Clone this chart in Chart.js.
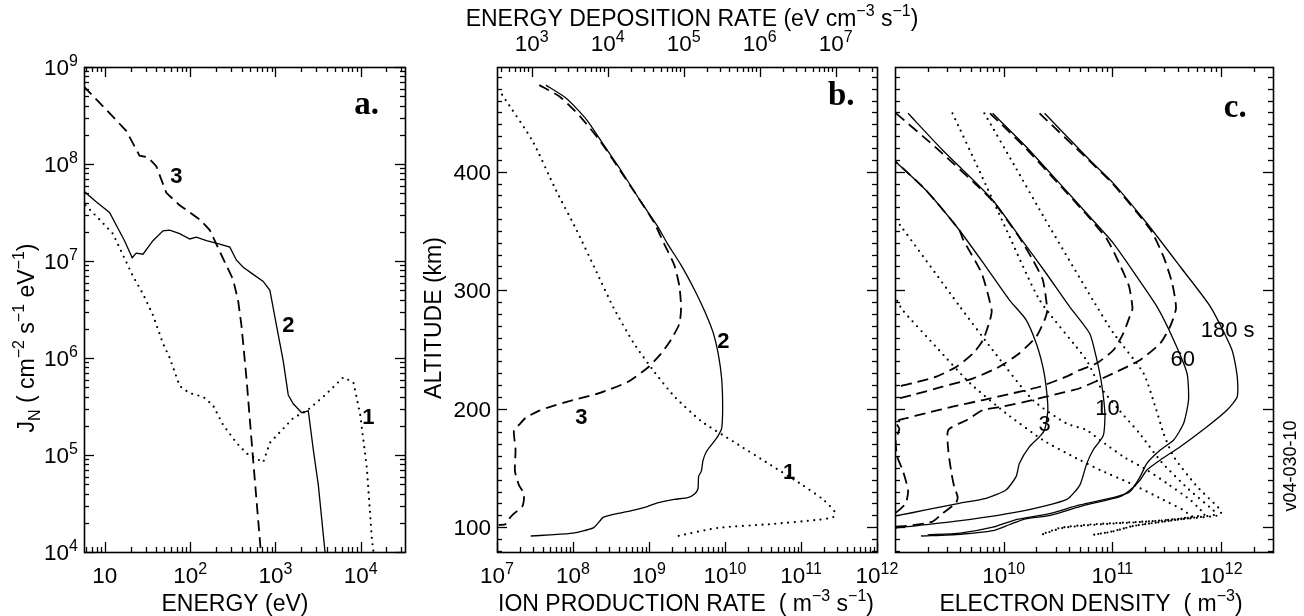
<!DOCTYPE html>
<html>
<head>
<meta charset="utf-8">
<script src="https://cdn.jsdelivr.net/npm/chart.js@4/dist/chart.umd.min.js"></script>
<style>
  html, body { margin: 0; background: #fff; }
  #wrap { position: relative; width: 1304px; height: 616px; }
  canvas { position: absolute; left: 0; top: 0; }
</style>
</head>
<body>
<div id="wrap">
  <canvas id="panelA" width="1304" height="616"></canvas>
  <canvas id="panelB" width="1304" height="616"></canvas>
  <canvas id="panelC" width="1304" height="616"></canvas>
</div>
<script>
// ---- panel a: electron spectra, log10 of energy (eV) and flux ----
const energyLog1 = [0.773,0.937,1.094,1.251,1.329,1.447,1.564,1.682,1.760,1.877,1.995,2.152,2.269,2.387,2.543,2.661,2.739,2.857,2.935,3.092,3.209,3.366,3.562,3.797,3.914,3.993,4.071,4.130,4.149];
const fluxLog1   = [7.575,7.428,7.282,6.990,6.844,6.661,6.442,6.149,6.003,5.711,5.637,5.601,5.510,5.309,5.126,5.016,4.980,4.925,5.126,5.272,5.382,5.455,5.601,5.802,5.747,5.418,4.870,4.139,4.0];
const energyLog2 = [0.753,0.898,1.055,1.231,1.321,1.368,1.447,1.564,1.682,1.760,1.877,1.995,2.073,2.191,2.347,2.465,2.543,2.622,2.739,2.857,2.935,3.013,3.092,3.150,3.209,3.307,3.385,3.444,3.503,3.581];
const fluxLog2   = [7.721,7.611,7.501,7.209,7.034,7.081,7.070,7.209,7.311,7.319,7.282,7.227,7.246,7.209,7.173,7.143,7.008,6.935,6.862,6.789,6.697,6.332,5.966,5.619,5.528,5.436,5.455,5.053,4.687,4.0];
const energyLog3 = [0.753,1.055,1.251,1.407,1.505,1.603,1.721,1.877,2.112,2.230,2.347,2.504,2.563,2.602,2.661,2.739,2.829];
const fluxLog3   = [8.799,8.525,8.342,8.086,8.068,7.977,7.703,7.575,7.428,7.319,7.099,6.807,6.588,6.332,5.784,4.943,4.0];

// ---- panel b: ion production, altitude (km) and log10 rate (m-3 s-1) ----
const altB1  = [465.0,426.0,384.1,351.1,315.2,285.2,255.2,231.3,210.3,189.3,171.3,153.3,135.4,123.4,112.9,108.4,106.3,102.4,99.4,91.9];
const rateB1 = [7.067,7.467,7.778,8.044,8.311,8.533,8.800,9.067,9.333,9.689,10.133,10.578,11.022,11.289,11.444,11.422,11.244,10.578,9.911,9.333];
const altB2  = [473.1,462.0,444.0,423.0,402.1,375.1,354.1,339.1,321.2,300.2,282.2,264.2,246.2,225.3,201.3,183.3,177.3,171.3,163.8,156.3,147.3,142.9,132.4,127.9,124.9,123.4,120.4,117.4,114.4,111.4,108.4,105.4,99.4,94.9,93.4,92.5];
const rateB2 = [7.644,7.911,8.178,8.400,8.622,8.889,9.111,9.244,9.422,9.600,9.733,9.844,9.911,9.956,9.969,9.956,9.911,9.844,9.756,9.711,9.689,9.653,9.644,9.600,9.511,9.333,9.111,8.978,8.800,8.578,8.400,8.356,8.267,8.000,7.689,7.444];
const altB3  = [473.1,463.5,447.0,426.0,405.1,375.1,357.1,339.1,321.2,303.2,285.2,271.7,258.2,246.2,234.3,222.3,213.3,207.3,201.3,198.3,192.3,186.3,181.8,165.3,147.3,135.4,127.9,117.4,111.4,106.9,102.4,101.8];
const rateB3 = [7.556,7.822,8.089,8.356,8.578,8.889,9.067,9.200,9.333,9.400,9.422,9.400,9.289,9.156,8.978,8.711,8.356,8.000,7.689,7.556,7.378,7.289,7.222,7.244,7.236,7.289,7.356,7.333,7.222,7.156,7.111,7.022];

// ---- panel c: electron density after 3, 10, 60, 180 s (log10 m-3) ----
// spectrum 1 (dotted)
const altP3  = [291.0,283.3,252.3,221.4,196.1,173.5,159.5,156.7,148.2,137.0,122.9,114.5,111.0,108.4,105.4,103.9,102.4,99.4,93.4];
const denP3  = [9.02,9.068,9.376,9.69,10.021,10.36,10.637,10.70,10.886,11.163,11.47,11.65,11.70,11.74,11.43,11.13,10.82,10.52,10.336];
const altP10 = [359.0,355.0,286.1,249.5,207.3,187.6,182.0,173.5,159.5,148.2,137.0,122.9,114.5,110.5,107.0,104.5,102.4,99.4,93.4];
const denP10 = [9.0,9.046,9.597,9.898,10.267,10.575,10.76,10.886,11.10,11.317,11.50,11.717,11.81,11.85,11.6,11.3,10.9,10.55,10.34];
const altP60 = [449.3,400.0,350.0,291.7,241.1,218.6,200.0,179.0,155.0,132.0,114.0,110.5,106.3,100.9,96.4,93.4];
const denP60 = [9.529,9.78,10.03,10.33,10.76,10.886,11.05,11.25,11.45,11.70,11.93,11.95,11.6,11.19,11.0,10.82];
const altP180 = [449.3,405.0,360.0,291.7,263.6,229.9,200.0,179.2,159.5,134.1,114.5,110.2,106.5,100.9,96.4,93.4];
const denP180 = [9.822,10.10,10.38,10.82,11.01,11.286,11.40,11.47,11.563,11.78,11.994,11.994,11.62,11.19,11.007,10.82];
// spectrum 2 (solid)
const altS3  = [413.0,408.5,384.6,350.8,318.0,291.7,275.0,255.2,235.4,218.6,198.9,182.0,176.4,167.9,153.9,142.6,131.3,124.3,120.1,114.5,109.4,108.0];
const denS3  = [8.95,9.006,9.283,9.591,9.85,10.053,10.206,10.299,10.36,10.39,10.406,10.376,10.33,10.237,10.145,10.114,10.02,9.837,9.59,9.283,9.006,8.9];
const altS10 = [449.3,418.4,376.1,345.1,314.3,286.1,263.6,243.9,221.4,195.3,177.3,165.3,153.4,135.4,123.4,114.4,105.4,99.4,97.0];
const denS10 = [9.12,9.437,9.898,10.145,10.39,10.606,10.79,10.85,10.90,10.931,10.916,10.824,10.763,10.70,10.58,10.214,9.603,9.017,8.9];
const altS60 = [449.3,421.1,390.2,362.0,339.6,311.4,286.1,258.0,229.9,207.3,187.6,173.5,165.1,153.9,142.6,130.0,125.7,118.7,111.0,106.0,100.0,95.0,93.5];
const denS60 = [9.898,10.206,10.514,10.791,11.009,11.225,11.41,11.563,11.686,11.70,11.655,11.563,11.44,11.317,11.255,11.163,11.04,10.70,10.40,10.1,9.9,9.6,9.3];
const altS180 = [449.3,409.9,390.2,356.5,319.8,286.1,249.5,227.0,210.1,198.9,184.8,167.9,156.7,148.2,139.8,131.3,125.7,121.5,117.3,110.0,107.0,102.0,97.0,94.0,92.5];
const denS180 = [10.376,10.791,11.009,11.317,11.624,11.901,12.10,12.148,12.148,12.055,11.87,11.624,11.44,11.317,11.255,11.163,11.07,10.886,10.70,10.43,10.2,10.05,9.9,9.6,9.24];
// spectrum 3 (dashed)
const altD3  = [413.0,408.5,384.6,350.8,342.4,314.3,283.3,275.0,258.0,246.8,235.4,227.0,221.4,218.0,212.0];
const denD3  = [8.95,9.006,9.283,9.591,9.628,9.797,9.889,9.874,9.81,9.72,9.566,9.38,9.16,9.006,8.8];
const altD10 = [449.3,418.4,376.1,345.1,325.5,308.6,283.3,275.0,260.9,246.8,235.4,225.6,218.5,211.5,208.0,204.0];
const denD10 = [9.01,9.40,9.89,10.14,10.268,10.36,10.40,10.376,10.30,10.145,9.96,9.72,9.437,9.16,9.006,8.8];
const altD60 = [449.3,421.1,390.2,362.0,342.4,319.8,302.9,284.7,280.5,263.6,249.5,238.3,232.6,227.0,218.5,213.0,207.3,201.7,196.1,191.9,189.0,183.0,173.5,159.5,148.2,131.3,120.1,114.5,111.7,108.0];
const denD60 = [9.874,10.19,10.50,10.78,10.954,11.077,11.154,11.185,11.17,11.10,11.01,10.855,10.70,10.575,10.33,10.083,9.81,9.53,9.283,9.10,9.006,9.04,9.006,9.02,9.07,9.12,9.1,9.04,9.0,8.9];
const altD180 = [449.3,409.9,390.2,351.0,328.3,305.8,284.7,269.2,255.2,241.1,229.9,217.2,213.0,207.3,201.7,198.9,190.4,182.0,164.9,145.3,134.0,125.6,120.1,111.7,104.6,101.0,100.0];
const denD180 = [10.33,10.78,11.0,11.35,11.47,11.55,11.585,11.53,11.44,11.255,11.01,10.70,10.514,10.267,9.99,9.81,9.66,9.49,9.49,9.52,9.545,9.576,9.56,9.437,9.345,9.1,8.9];

// ---- tick labels ----
const energyTicks = [10, 100, 1000, 10000];
const energyTickExp = ['', '2', '3', '4'];
const fluxTicks = [1e4, 1e5, 1e6, 1e7, 1e8, 1e9];
const fluxTickExp = ['4', '5', '6', '7', '8', '9'];
const rateTicks = [1e7, 1e8, 1e9, 1e10, 1e11, 1e12];
const rateTickExp = ['7', '8', '9', '10', '11', '12'];
const depositionTicks = [1e3, 1e4, 1e5, 1e6, 1e7];
const depositionTickExp = ['3', '4', '5', '6', '7'];
const densityTicks = [1e10, 1e11, 1e12];
const densityTickExp = ['10', '11', '12'];
const altitudeTicks = [100, 200, 300, 400];

const FONT = '"Liberation Sans", Arial, Helvetica, sans-serif';
const SERIF = '"Liberation Serif", "Times New Roman", serif';
const FS = 22.5;   // tick labels
const TS = 23;     // axis titles

function logPts(xs, ys) { return xs.map((x, i) => ({ x: 10 ** x, y: 10 ** ys[i] })); }
function altPts(xs, alts) { return xs.map((x, i) => ({ x: 10 ** x, y: alts[i] })); }

const SOLID = { borderWidth: 1.3, borderDash: [] };
const DASHED = { borderWidth: 1.8, borderDash: [11, 6] };
const DOTTED = { borderWidth: 2.2, borderDash: [0, 6.5], borderCapStyle: 'round' };
function line(data, style, tension) {
  return Object.assign({ data, showLine: true, borderColor: '#000', pointRadius: 0, fill: false, clip: 0, tension: tension || 0 }, style);
}

function logMinor(min, max) {
  const out = [];
  for (let e = Math.floor(Math.log10(min)); e <= Math.ceil(Math.log10(max)); e++)
    for (let m = 2; m <= 9; m++) { const v = m * 10 ** e; if (v > min && v < max) out.push(v); }
  return out;
}
const altMinor = [];
for (let h = 80; h <= 480; h += 10) if (h % 100) altMinor.push(h);

// text with superscripts (kind 1) and subscripts (kind -1)
function rich(ctx, parts, x, y, align, size, weight, family) {
  const small = Math.round(size * 0.7);
  const fam = family || FONT;
  const w8 = weight || 'normal';
  let total = 0;
  const widths = parts.map(([t, k]) => {
    ctx.font = `${w8} ${k ? small : size}px ${fam}`;
    const m = ctx.measureText(t).width; total += m; return m;
  });
  let cx = align === 'center' ? x - total / 2 : align === 'right' ? x - total : x;
  ctx.textAlign = 'left';
  ctx.textBaseline = 'alphabetic';
  parts.forEach(([t, k], i) => {
    ctx.font = `${w8} ${k ? small : size}px ${fam}`;
    const dy = k === 1 ? -size * 0.42 : k === -1 ? size * 0.28 : 0;
    ctx.fillText(t, cx, y + dy);
    cx += widths[i];
  });
}

const framePlugin = {
  id: 'frame',
  afterDraw(chart, args, o) {
    const ctx = chart.ctx, a = chart.chartArea;
    ctx.save();
    ctx.fillStyle = '#000';
    ctx.strokeStyle = '#000';
    ctx.lineWidth = 1.6;
    ctx.strokeRect(Math.round(a.left) + 0.5, Math.round(a.top) + 0.5, Math.round(a.right - a.left), Math.round(a.bottom - a.top));
    ctx.lineWidth = 1.3;
    for (const t of o.ticks) {
      const s = chart.scales[t.scale];
      for (const [vals, len] of [[t.major, 10], [t.minor, 5]]) {
        for (const v of vals) {
          const p = Math.round(s.getPixelForValue(v)) + 0.5;
          ctx.beginPath();
          if (t.side === 'bottom') { ctx.moveTo(p, a.bottom); ctx.lineTo(p, a.bottom - len); }
          else if (t.side === 'top') { ctx.moveTo(p, a.top); ctx.lineTo(p, a.top + len); }
          else if (t.side === 'left') { ctx.moveTo(a.left, p); ctx.lineTo(a.left + len, p); }
          else { ctx.moveTo(a.right, p); ctx.lineTo(a.right - len, p); }
          ctx.stroke();
        }
      }
    }
    for (const L of o.labels) {
      const s = chart.scales[L.scale];
      L.values.forEach((v, i) => {
        const p = s.getPixelForValue(v);
        const parts = L.exps ? [['10', 0], [L.exps[i], 1]] : [[String(v), 0]];
        if (L.side === 'bottom') rich(ctx, parts, p, a.bottom + 31, 'center', FS);
        else if (L.side === 'top') rich(ctx, parts, p, a.top - 16, 'center', FS);
        else rich(ctx, parts, a.left - 6, p + FS * 0.36, 'right', FS);
      });
    }
    for (const T of o.titles) {
      if (T.rotate) {
        ctx.save();
        ctx.translate(T.x, T.y);
        ctx.rotate(-Math.PI / 2);
        rich(ctx, T.parts, 0, 0, 'center', T.size || TS);
        ctx.restore();
      } else {
        rich(ctx, T.parts, T.x, T.y, 'center', T.size || TS);
      }
    }
    for (const n of o.notes) {
      const x = chart.scales.x.getPixelForValue(n.x), y = chart.scales.y.getPixelForValue(n.y);
      rich(ctx, [[n.t, 0]], x, y + n.size * 0.36, 'center', n.size, n.weight, n.family);
    }
    ctx.restore();
  }
};

function baseOptions(pad, scales, frame) {
  return {
    responsive: false, animation: false, devicePixelRatio: 1,
    layout: { padding: pad },
    plugins: { legend: { display: false }, tooltip: { enabled: false }, frame },
    scales
  };
}

// ---- panel a ----
new Chart(document.getElementById('panelA'), {
  type: 'scatter',
  data: { datasets: [
    line(logPts(energyLog1, fluxLog1), DOTTED),
    line(logPts(energyLog2, fluxLog2), SOLID),
    line(logPts(energyLog3, fluxLog3), DASHED)
  ] },
  options: baseOptions(
    { left: 84, top: 67, right: 899, bottom: 64 },
    {
      x: { type: 'logarithmic', min: 5.7, max: 3.3e4, display: false },
      y: { type: 'logarithmic', min: 1e4, max: 1e9, display: false }
    },
    {
      ticks: [
        { scale: 'x', side: 'bottom', major: energyTicks, minor: logMinor(5.7, 3.3e4) },
        { scale: 'x', side: 'top', major: energyTicks, minor: logMinor(5.7, 3.3e4) },
        { scale: 'y', side: 'left', major: fluxTicks, minor: logMinor(1e4, 1e9) },
        { scale: 'y', side: 'right', major: fluxTicks, minor: logMinor(1e4, 1e9) }
      ],
      labels: [
        { scale: 'x', side: 'bottom', values: energyTicks, exps: energyTickExp },
        { scale: 'y', side: 'left', values: fluxTicks, exps: fluxTickExp }
      ],
      titles: [
        { parts: [['ENERGY (eV)', 0]], x: 235, y: 611 },
        { parts: [['J', 0], ['N', -1], [' ( cm', 0], ['\u22122', 1], [' s', 0], ['\u22121', 1], [' eV', 0], ['\u22121', 1], [')', 0]], x: 34, y: 338, rotate: true }
      ],
      notes: [
        { t: '3', x: 10 ** 1.838, y: 10 ** 7.885, size: 22, weight: 'bold' },
        { t: '2', x: 10 ** 3.150, y: 10 ** 6.35, size: 22, weight: 'bold' },
        { t: '1', x: 10 ** 4.09, y: 10 ** 5.40, size: 22, weight: 'bold' },
        { t: 'a.', x: 10 ** 4.07, y: 10 ** 8.635, size: 33, weight: 'bold', family: SERIF }
      ]
    }
  ),
  plugins: [framePlugin]
});

// ---- panel b ----
new Chart(document.getElementById('panelB'), {
  type: 'scatter',
  data: { datasets: [
    line(altPts(rateB1, altB1), DOTTED, 0.2),
    line(altPts(rateB2, altB2), SOLID, 0.2),
    line(altPts(rateB3, altB3), DASHED, 0.2)
  ] },
  options: baseOptions(
    { left: 497, top: 67, right: 427, bottom: 64 },
    {
      x: { type: 'logarithmic', min: 1e7, max: 1e12, display: false },
      x2: { type: 'logarithmic', position: 'top', min: 350, max: 3.5e7, display: false },
      y: { type: 'linear', min: 79, max: 488.4, display: false }
    },
    {
      ticks: [
        { scale: 'x', side: 'bottom', major: rateTicks, minor: logMinor(1e7, 1e12) },
        { scale: 'x2', side: 'top', major: depositionTicks, minor: logMinor(350, 3.5e7) },
        { scale: 'y', side: 'left', major: altitudeTicks, minor: altMinor },
        { scale: 'y', side: 'right', major: altitudeTicks, minor: altMinor }
      ],
      labels: [
        { scale: 'x', side: 'bottom', values: rateTicks, exps: rateTickExp },
        { scale: 'x2', side: 'top', values: depositionTicks, exps: depositionTickExp },
        { scale: 'y', side: 'left', values: altitudeTicks }
      ],
      titles: [
        { parts: [['ION PRODUCTION RATE  ( m', 0], ['\u22123', 1], [' s', 0], ['\u22121', 1], [')', 0]], x: 686, y: 611 },
        { parts: [['ENERGY DEPOSITION RATE (eV cm', 0], ['\u22123', 1], [' s', 0], ['\u22121', 1], [')', 0]], x: 692, y: 26 },
        { parts: [['ALTITUDE (km)', 0]], x: 441, y: 318, rotate: true }
      ],
      notes: [
        { t: '2', x: 10 ** 9.978, y: 258.2, size: 22, weight: 'bold' },
        { t: '3', x: 10 ** 8.111, y: 193.8, size: 22, weight: 'bold' },
        { t: '1', x: 10 ** 10.844, y: 147.3, size: 22, weight: 'bold' },
        { t: 'b.', x: 10 ** 11.53, y: 466.5, size: 33, weight: 'bold', family: SERIF }
      ]
    }
  ),
  plugins: [framePlugin]
});

// ---- panel c ----
new Chart(document.getElementById('panelC'), {
  type: 'scatter',
  data: { datasets: [
    line(altPts(denP3, altP3), DOTTED, 0.2),
    line(altPts(denP10, altP10), DOTTED, 0.2),
    line(altPts(denP60, altP60), DOTTED, 0.2),
    line(altPts(denP180, altP180), DOTTED, 0.2),
    line(altPts(denS3, altS3), SOLID, 0.2),
    line(altPts(denS10, altS10), SOLID, 0.2),
    line(altPts(denS60, altS60), SOLID, 0.2),
    line(altPts(denS180, altS180), SOLID, 0.2),
    line(altPts(denD3, altD3), DASHED, 0.2),
    line(altPts(denD10, altD10), DASHED, 0.2),
    line(altPts(denD60, altD60), DASHED, 0.2),
    line(altPts(denD180, altD180), DASHED, 0.2)
  ] },
  options: baseOptions(
    { left: 895, top: 67, right: 31, bottom: 64 },
    {
      x: { type: 'logarithmic', min: 1e9, max: 3e12, display: false },
      y: { type: 'linear', min: 79, max: 488.4, display: false }
    },
    {
      ticks: [
        { scale: 'x', side: 'bottom', major: densityTicks, minor: logMinor(1e9, 3e12) },
        { scale: 'x', side: 'top', major: densityTicks, minor: logMinor(1e9, 3e12) },
        { scale: 'y', side: 'left', major: altitudeTicks, minor: altMinor },
        { scale: 'y', side: 'right', major: altitudeTicks, minor: altMinor }
      ],
      labels: [
        { scale: 'x', side: 'bottom', values: densityTicks, exps: densityTickExp }
      ],
      titles: [
        { parts: [['ELECTRON DENSITY  ( m', 0], ['\u22123', 1], [')', 0]], x: 1091, y: 611 },
        { parts: [['v04-030-10', 0]], x: 1296, y: 466, rotate: true, size: 18 }
      ],
      notes: [
        { t: '3', x: 10 ** 10.376, y: 187.6, size: 22 },
        { t: '10', x: 10 ** 10.954, y: 201.7, size: 22 },
        { t: '60', x: 10 ** 11.646, y: 242.5, size: 22 },
        { t: '180 s', x: 10 ** 12.06, y: 267.0, size: 22 },
        { t: 'c.', x: 10 ** 12.13, y: 456.3, size: 33, weight: 'bold', family: SERIF }
      ]
    }
  ),
  plugins: [framePlugin]
});
</script>
</body>
</html>
